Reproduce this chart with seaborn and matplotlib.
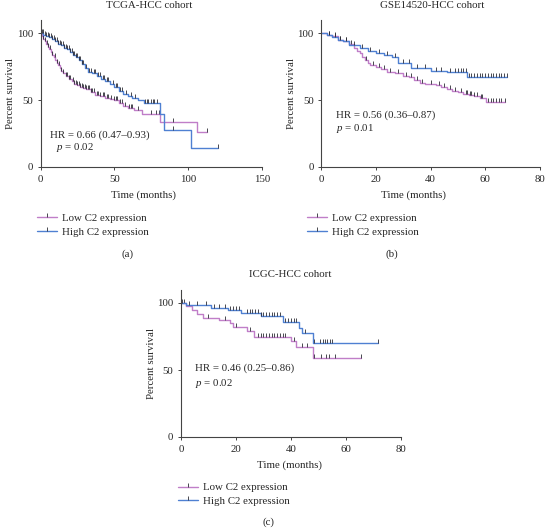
import numpy as np
import matplotlib
matplotlib.use("Agg")
import matplotlib.pyplot as plt
import seaborn as sns
from matplotlib.lines import Line2D

# ---- data (step points of the KM curves) ----
# (a) TCGA-HCC
tcga_low_t = [0, 1, 2, 3, 4, 5, 6, 7, 8, 9, 10, 11, 12, 13, 14, 15, 17, 19, 21, 23, 25, 27, 29, 31,
              34, 37, 40, 44, 47, 50, 53, 56, 59, 63, 69, 81, 106]
tcga_low_s = [100, 98, 96, 94, 92, 90, 88, 86, 84, 82, 80, 78, 76, 74, 72, 70, 68, 66, 64, 62, 61, 60,
              59, 58, 56, 54, 53, 52, 51, 50, 48, 46, 44, 43, 40, 34, 26]
tcga_low_end = 113
tcga_low_cens = [0.5, 1.5, 2, 3, 4.5, 5, 6.5, 8, 9.5, 11, 12.5, 14, 15.5, 17, 18, 19, 20, 22, 23,
                 24, 25, 26, 27, 28, 29, 30, 31, 32, 33, 34.5, 35, 36, 38, 39, 40, 42, 43, 45, 46,
                 48, 50, 51, 52, 54, 55, 57, 60, 61, 62, 66, 75, 78, 80, 90, 113]

tcga_high_t = [0, 2, 4, 6, 8, 10, 12, 14, 16, 18, 20, 22, 24, 26, 28, 30, 32, 35, 38, 41, 44, 47, 50,
               53, 56, 59, 62, 66, 70, 81, 83.5, 102]
tcga_high_s = [100, 99, 98, 97, 96, 94, 92, 91, 89, 88, 86, 84, 82, 80, 77, 74, 71, 70, 68, 66, 64,
               62, 60, 57, 55, 53, 52, 50, 48, 40, 27.7, 14]
tcga_high_end = 120
tcga_high_cens = [1, 1.5, 3, 4, 5, 6, 7, 8, 9, 10, 11, 12, 13, 14, 15, 16, 17, 18, 19, 20, 21, 22,
                  23, 24, 25, 26, 27, 28, 29, 31, 33, 34, 36, 37, 39, 40, 42, 43, 45, 46, 49, 51,
                  52, 54, 55, 58, 61, 64, 71, 72, 73, 75, 76, 77, 79, 90, 120]

# (b) GSE14520-HCC
gse_low_t = [0, 2, 4, 6, 8, 10, 12, 13, 14, 15, 16, 17, 18, 20, 22, 24, 27, 30, 32, 34, 36, 38, 42,
             44, 46, 48, 50, 52, 54, 56, 58, 60.5]
gse_low_s = [100, 99, 98, 95, 94, 92, 89, 87, 85, 82, 80, 78, 76, 75, 73, 71, 70, 68, 67, 65, 63, 62,
             61, 60, 58, 57, 56, 55, 54, 53, 52, 49]
gse_low_end = 67.3
gse_low_cens = [3, 5, 7, 9, 11, 16.5, 19, 21, 23, 25, 28, 31, 33, 35, 37, 40, 43, 45, 47, 49, 51,
                53, 53.5, 54.5, 55, 56, 57, 58.5, 59, 61, 62, 63, 64, 65, 66, 67.3]
gse_high_t = [0, 2, 4, 6, 8, 10, 14, 17, 20, 23, 26, 28, 33, 40, 46, 53.5]
gse_high_s = [100, 99, 97, 95, 94, 91, 89, 87, 85, 84, 82, 78, 74, 72, 71, 67.7]
gse_high_end = 67.9
gse_high_cens = [3, 5, 7, 9, 12, 15, 18, 21, 24, 27, 30, 32, 35, 38, 42, 44, 47, 49, 50, 51, 52,
                 53, 54, 55, 56, 57, 58, 59, 60, 61, 62, 63, 64, 65, 66, 67, 67.9]

# (c) ICGC-HCC
icgc_low_t = [0, 2, 4, 6, 8, 14, 18, 19, 24, 26.5, 40, 42, 48]
icgc_low_s = [100, 97.5, 95, 92, 89, 87.5, 85, 82, 79, 75, 72, 67, 58.75]
icgc_low_end = 65.7
icgc_low_cens = [1, 10, 16, 20, 25, 28, 29, 30, 31, 32, 33, 34, 35, 36, 37, 38, 41, 44, 46, 48.3,
                 51, 52.7, 53.8, 56, 65.7]
icgc_high_t = [0, 2, 11, 17, 22, 29, 37, 43, 44, 48]
icgc_high_s = [100, 98.75, 96, 94.5, 92.5, 90, 86, 81, 77.5, 70]
icgc_high_end = 71.6
icgc_high_cens = [0.5, 3, 6, 9, 12, 14, 16, 18, 19, 20, 21, 24, 25, 26, 27, 28, 29, 30, 31, 32, 33,
                  34, 35, 36, 38, 39, 40, 41, 42, 45, 48.3, 50.7, 51.6, 52.4, 53.3, 54.1, 55, 71.6]

panel_titles = ["TCGA-HCC cohort", "GSE14520-HCC cohort", "ICGC-HCC cohort"]
hr_texts = ["HR = 0.66 (0.47\u20130.93)", "HR = 0.56 (0.36\u20130.87)", "HR = 0.46 (0.25\u20130.86)"]
p_texts = ["0.02", "0.01", "0.02"]
panel_letters = ["(a)", "(b)", "(c)"]
x_maxes = [150, 80, 80]
x_steps = [50, 20, 20]
legend_labels = ["Low C2 expression", "High C2 expression"]

LOW_COLOR = "#c07ec8"
HIGH_COLOR = "#4f80d2"
CENS_COLOR = "#2b2b33"

sns.set_style("ticks")
plt.rcParams["font.family"] = ["Liberation Serif", "DejaVu Serif"]
plt.rcParams["mathtext.fontset"] = "custom"
plt.rcParams["mathtext.it"] = "Liberation Serif:italic"
plt.rcParams["mathtext.rm"] = "Liberation Serif"
FS = 7.8


def step_value(t, s, x):
    idx = np.searchsorted(np.asarray(t), np.asarray(x), side="right") - 1
    return np.asarray(s)[np.clip(idx, 0, len(s) - 1)]


def draw_curve(ax, t, s, end, cens, color):
    xs = list(t) + [end]
    ys = list(s) + [s[-1]]
    sns.lineplot(x=xs, y=ys, drawstyle="steps-post", color=color, lw=1.0,
                 estimator=None, sort=False, ax=ax)
    ax.plot(cens, step_value(t, s, cens), ls="none", marker=2, ms=3.2,
            mec=CENS_COLOR, mew=0.6)


fig = plt.figure(figsize=(5.46, 5.29), dpi=100)
W, H = 546, 529


def px_axes(x0, x1, y_top, y_bot):
    return fig.add_axes([x0 / W, 1 - y_bot / H, (x1 - x0) / W, (y_bot - y_top) / H])


axes = [px_axes(40.5, 262, 20, 167),
        px_axes(321.3, 539.7, 20, 167),
        px_axes(181, 400.7, 289.6, 437)]

curves = [
    (tcga_low_t, tcga_low_s, tcga_low_end, tcga_low_cens, tcga_high_t, tcga_high_s, tcga_high_end, tcga_high_cens),
    (gse_low_t, gse_low_s, gse_low_end, gse_low_cens, gse_high_t, gse_high_s, gse_high_end, gse_high_cens),
    (icgc_low_t, icgc_low_s, icgc_low_end, icgc_low_cens, icgc_high_t, icgc_high_s, icgc_high_end, icgc_high_cens),
]

title_x = [0.49, 0.51, 0.495]
xlabel_x = [0.463, 0.42, 0.495]
text_pos = [(0.043, 0.218, 0.07, 0.13), (0.069, 0.354, 0.069, 0.265), (0.064, 0.468, 0.064, 0.366)]
legend_pos = [(37, 225), (307, 225), (178, 494.5)]
letter_pos = [(128, 254), (392, 254), (268, 522)]

for i, ax in enumerate(axes):
    lt, ls_, le, lc, ht, hs, he, hc = curves[i]
    draw_curve(ax, lt, ls_, le, lc, LOW_COLOR)
    draw_curve(ax, ht, hs, he, hc, HIGH_COLOR)

    ax.set_xlim(0, x_maxes[i])
    ax.set_ylim(0, 110)
    ax.set_xticks(np.arange(0, x_maxes[i] + 1, x_steps[i]))
    ax.set_yticks([0, 50, 100])
    ax.tick_params(labelsize=FS, length=2.5, width=0.7, color="#444444", pad=3)
    for side in ["top", "right"]:
        ax.spines[side].set_visible(False)
    for side in ["left", "bottom"]:
        ax.spines[side].set_linewidth(0.8)
        ax.spines[side].set_color("#444444")

    ax.set_xlabel("Time (months)", fontsize=FS)
    ax.set_ylabel("Percent survival", fontsize=FS)
    ax.xaxis.set_label_coords(xlabel_x[i], -28 / 147)
    ax.xaxis.label.set_va("center")
    ax.yaxis.set_label_coords(-30 / 221.5, 0.5)
    ax.yaxis.label.set_va("center")

    ax.text(title_x[i], 1 + 15 / 147, panel_titles[i], transform=ax.transAxes,
            ha="center", va="center", fontsize=FS)
    hx, hy, px, py = text_pos[i]
    ax.text(hx, hy, hr_texts[i], transform=ax.transAxes, ha="left", va="center", fontsize=FS)
    ax.text(px, py, r"$\it{p}$ = " + p_texts[i], transform=ax.transAxes, ha="left",
            va="center", fontsize=FS)

    handles = [Line2D([], [], color=LOW_COLOR, lw=1.0, marker=2, ms=3, mec=CENS_COLOR, mew=0.6),
               Line2D([], [], color=HIGH_COLOR, lw=1.0, marker=2, ms=3, mec=CENS_COLOR, mew=0.6)]
    lx, ly = legend_pos[i]
    ax.legend(handles, legend_labels, loc="center left", bbox_to_anchor=(lx / W, 1 - ly / H),
              bbox_transform=fig.transFigure, frameon=False, fontsize=FS, handlelength=1.8,
              handletextpad=0.5, labelspacing=0.4, borderpad=0, borderaxespad=0, numpoints=1)

    lx, ly = letter_pos[i]
    fig.text(lx / W, 1 - ly / H, panel_letters[i], ha="center", va="center", fontsize=FS)

fig.savefig("out.png", dpi=100)
